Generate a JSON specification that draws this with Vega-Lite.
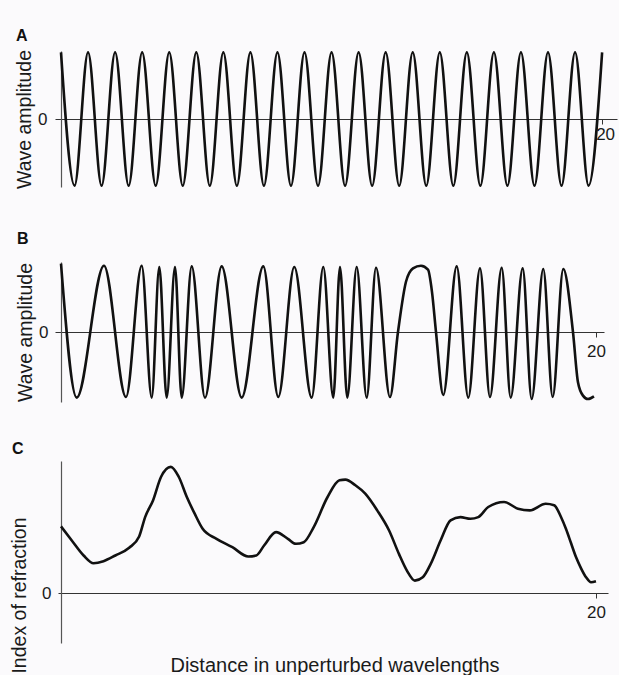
{
  "$schema": "https://vega.github.io/schema/vega-lite/v6.json",
  "background": "#fbfafc",
  "padding": {"left": 9, "top": 28, "right": 2, "bottom": 0},
  "autosize": {"type": "pad"},
  "config": {
    "view": {"stroke": null},
    "font": "Liberation Sans",
    "axis": {"grid": false, "labelFont": "Liberation Sans", "titleFont": "Liberation Sans", "labelColor": "#1a1a1a", "titleColor": "#1a1a1a", "titleFontWeight": "normal", "labelFontSize": 17, "labelFlush": false, "labelBound": false},
    "title": {"font": "Liberation Sans", "fontSize": 16, "fontWeight": "bold", "color": "#111", "anchor": "start", "frame": "bounds", "baseline": "alphabetic"}
  },
  "datasets": {
    "A": [
      {"x": 0, "y": 1}, {"x": 0.5, "y": -1}, {"x": 1, "y": 1}, {"x": 1.5, "y": -1}, {"x": 2, "y": 1}, {"x": 2.5, "y": -1},
      {"x": 3, "y": 1}, {"x": 3.5, "y": -1}, {"x": 4, "y": 1}, {"x": 4.5, "y": -1}, {"x": 5, "y": 1}, {"x": 5.5, "y": -1},
      {"x": 6, "y": 1}, {"x": 6.5, "y": -1}, {"x": 7, "y": 1}, {"x": 7.5, "y": -1}, {"x": 8, "y": 1}, {"x": 8.5, "y": -1},
      {"x": 9, "y": 1}, {"x": 9.5, "y": -1}, {"x": 10, "y": 1}, {"x": 10.5, "y": -1}, {"x": 11, "y": 1}, {"x": 11.5, "y": -1},
      {"x": 12, "y": 1}, {"x": 12.5, "y": -1}, {"x": 13, "y": 1}, {"x": 13.5, "y": -1}, {"x": 14, "y": 1}, {"x": 14.5, "y": -1},
      {"x": 15, "y": 1}, {"x": 15.5, "y": -1}, {"x": 16, "y": 1}, {"x": 16.5, "y": -1}, {"x": 17, "y": 1}, {"x": 17.5, "y": -1},
      {"x": 18, "y": 1}, {"x": 18.5, "y": -1}, {"x": 19, "y": 1}, {"x": 19.5, "y": -1}, {"x": 20, "y": 1}
    ],
    "B": [
      {"x": 0.0, "y": 1.02}, {"x": 0.587, "y": -0.98}, {"x": 1.607, "y": 0.99}, {"x": 2.43, "y": -0.97},
      {"x": 3.017, "y": 0.99}, {"x": 3.391, "y": -0.98}, {"x": 3.675, "y": 0.97}, {"x": 3.951, "y": -0.98},
      {"x": 4.262, "y": 0.97}, {"x": 4.512, "y": -0.98}, {"x": 4.886, "y": 0.98}, {"x": 5.383, "y": -0.98},
      {"x": 6.007, "y": 0.98}, {"x": 6.755, "y": -0.98}, {"x": 7.563, "y": 0.98}, {"x": 8.123, "y": -0.97},
      {"x": 8.721, "y": 0.97}, {"x": 9.372, "y": -0.98}, {"x": 9.806, "y": 0.97}, {"x": 10.179, "y": -0.98},
      {"x": 10.43, "y": 0.97}, {"x": 10.703, "y": -0.98}, {"x": 11.054, "y": 0.97}, {"x": 11.428, "y": -0.98},
      {"x": 11.776, "y": 0.96}, {"x": 12.299, "y": -0.97}, {"x": 12.598, "y": 0.0}, {"x": 12.897, "y": 0.75},
      {"x": 13.159, "y": 0.95}, {"x": 13.458, "y": 0.99}, {"x": 13.72, "y": 0.93}, {"x": 13.869, "y": 0.6},
      {"x": 14.019, "y": 0.0}, {"x": 14.292, "y": -0.94}, {"x": 14.793, "y": 0.98}, {"x": 15.226, "y": -0.98},
      {"x": 15.664, "y": 0.95}, {"x": 16.037, "y": -0.97}, {"x": 16.475, "y": 0.96}, {"x": 16.811, "y": -0.98},
      {"x": 17.26, "y": 0.95}, {"x": 17.596, "y": -1.0}, {"x": 18.03, "y": 0.94}, {"x": 18.381, "y": -0.97},
      {"x": 18.778, "y": 0.94}, {"x": 19.14, "y": 0.0}, {"x": 19.327, "y": -0.75}, {"x": 19.514, "y": -0.95},
      {"x": 19.7, "y": -1.0}, {"x": 19.925, "y": -0.96}
    ],
    "C": [
      {"x": 0.0, "y": 0.666}, {"x": 0.403, "y": 0.525}, {"x": 0.846, "y": 0.375}, {"x": 1.215, "y": 0.298},
      {"x": 1.588, "y": 0.318}, {"x": 2.031, "y": 0.375}, {"x": 2.549, "y": 0.452}, {"x": 2.922, "y": 0.565},
      {"x": 3.145, "y": 0.759}, {"x": 3.44, "y": 0.926}, {"x": 3.738, "y": 1.16}, {"x": 4.107, "y": 1.261},
      {"x": 4.405, "y": 1.16}, {"x": 4.704, "y": 0.96}, {"x": 4.998, "y": 0.793}, {"x": 5.296, "y": 0.642},
      {"x": 5.814, "y": 0.542}, {"x": 6.407, "y": 0.458}, {"x": 6.999, "y": 0.365}, {"x": 7.298, "y": 0.375},
      {"x": 7.592, "y": 0.475}, {"x": 8.039, "y": 0.609}, {"x": 8.483, "y": 0.542}, {"x": 8.781, "y": 0.492},
      {"x": 9.075, "y": 0.508}, {"x": 9.448, "y": 0.659}, {"x": 9.966, "y": 0.96}, {"x": 10.41, "y": 1.127},
      {"x": 10.633, "y": 1.134}, {"x": 11.006, "y": 1.077}, {"x": 11.375, "y": 0.993}, {"x": 11.822, "y": 0.826},
      {"x": 12.266, "y": 0.625}, {"x": 12.634, "y": 0.391}, {"x": 12.932, "y": 0.224}, {"x": 13.23, "y": 0.124},
      {"x": 13.524, "y": 0.157}, {"x": 13.822, "y": 0.291}, {"x": 14.191, "y": 0.525}, {"x": 14.564, "y": 0.726},
      {"x": 14.933, "y": 0.759}, {"x": 15.306, "y": 0.742}, {"x": 15.6, "y": 0.759}, {"x": 15.973, "y": 0.86},
      {"x": 16.566, "y": 0.91}, {"x": 17.084, "y": 0.843}, {"x": 17.527, "y": 0.826}, {"x": 18.12, "y": 0.892},
      {"x": 18.435, "y": 0.877}, {"x": 18.697, "y": 0.757}, {"x": 18.884, "y": 0.637}, {"x": 19.07, "y": 0.497},
      {"x": 19.257, "y": 0.357}, {"x": 19.443, "y": 0.247}, {"x": 19.63, "y": 0.157}, {"x": 19.816, "y": 0.107},
      {"x": 20.0, "y": 0.117}
    ]
  },
  "spacing": 36,
  "resolve": {"scale": {"x": "independent", "y": "independent"}},
  "vconcat": [
    {
      "spacing": 40,
      "resolve": {"scale": {"x": "independent", "y": "independent"}},
      "vconcat": [
        {
          "title": {"text": "A", "offset": 3, "dx": 2},
          "width": 556,
          "height": 136,
          "data": {"name": "A"},
          "mark": {"type": "line", "interpolate": "monotone", "stroke": "#111", "strokeWidth": 2.6},
          "encoding": {
            "x": {"field": "x", "type": "quantitative", "scale": {"domain": [0, 20.55], "nice": false, "zero": false},
              "axis": {"title": null, "values": [20], "format": "d", "offset": -68, "domainColor": "#333", "domainWidth": 1, "tickColor": "#333", "tickSize": 5, "labelPadding": 2, "labelOffset": 3}},
            "y": {"field": "y", "type": "quantitative", "scale": {"domain": [-1.02, 1.02], "nice": false},
              "axis": {"title": "Wave amplitude", "values": [0], "format": "d", "domainColor": "#555", "domainWidth": 1.2, "tickColor": "#333", "tickSize": 6, "labelPadding": 8, "titleFontSize": 19.5, "titleX": -37, "titleAngle": 270, "titleBaseline": "middle"}}
          }
        },
        {
          "title": {"text": "B", "offset": 11, "dx": 2},
          "width": 543,
          "height": 140,
          "data": {"name": "B"},
          "mark": {"type": "line", "interpolate": "monotone", "stroke": "#111", "strokeWidth": 2.6},
          "encoding": {
            "x": {"field": "x", "type": "quantitative", "scale": {"domain": [0, 20.3], "nice": false, "zero": false},
              "axis": {"title": null, "values": [20], "format": "d", "offset": -70, "domainColor": "#333", "domainWidth": 1, "tickColor": "#333", "tickSize": 5, "labelPadding": 6}},
            "y": {"field": "y", "type": "quantitative", "scale": {"domain": [-1.045, 1.045], "nice": false},
              "axis": {"title": "Wave amplitude", "values": [0], "format": "d", "domainColor": "#555", "domainWidth": 1.2, "tickColor": "#333", "tickSize": 6, "labelPadding": 7, "titleFontSize": 19.5, "titleX": -36, "titleAngle": 270, "titleBaseline": "middle"}}
          }
        }
      ]
    },
    {
      "title": {"text": "C", "offset": 4, "dx": 3},
      "width": 547,
      "height": 182,
      "data": {"name": "C"},
      "mark": {"type": "line", "interpolate": "monotone", "stroke": "#111", "strokeWidth": 2.6},
      "encoding": {
        "x": {"field": "x", "type": "quantitative", "scale": {"domain": [0, 20.45], "nice": false, "zero": false},
          "axis": {"title": "Distance in unperturbed wavelengths", "values": [20], "format": "d", "offset": -50, "domainColor": "#333", "domainWidth": 1, "tickColor": "#333", "tickSize": 5, "labelPadding": 6, "titleFontSize": 20, "titleY": 78, "titleBaseline": "alphabetic"}},
        "y": {"field": "y", "type": "quantitative", "scale": {"domain": [-0.5, 1.32], "nice": false},
          "axis": {"title": "Index of refraction", "values": [0], "format": "d", "domainColor": "#555", "domainWidth": 1.2, "tickColor": "#333", "tickSize": 3, "labelPadding": 7, "titleFontSize": 19.5, "titleX": -42, "titleY": 134, "titleAngle": 270, "titleBaseline": "middle"}}
      }
    }
  ]
}
